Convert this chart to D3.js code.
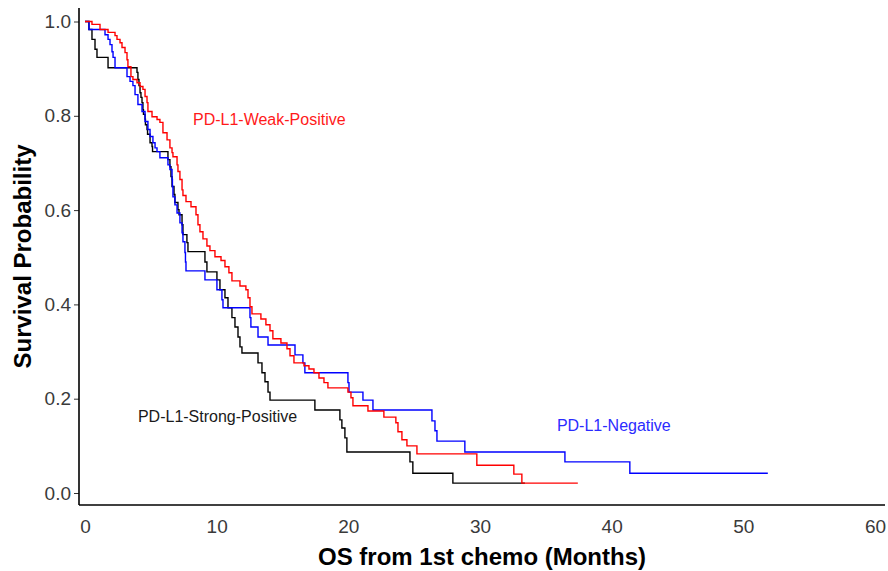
<!DOCTYPE html>
<html>
<head>
<meta charset="utf-8">
<script src="https://cdn.jsdelivr.net/npm/d3@7"></script>
<style>
    body { margin: 0; background: #fff; }
    svg { display: block; font-family: "Liberation Sans", Arial, sans-serif; }
</style>
</head>
<body>
<script>
// Kaplan-Meier curves: time (months) and survival after each step
const weakTime = [0, 0.53, 1.14, 1.75, 2.28, 2.43, 2.66, 2.81, 3.04, 3.19, 3.26, 3.49, 3.64, 3.95, 4.18, 4.40, 4.56, 4.71, 4.78, 5.09,
    5.47, 5.69, 5.92, 6.23, 6.45, 6.61, 6.68, 6.99, 7.06, 7.21, 7.37, 7.44, 7.67, 8.05, 8.43, 8.58, 8.73, 8.96, 9.26, 9.49,
    9.87, 10.33, 10.63, 10.93, 11.16, 11.77, 12.22, 12.38, 12.53, 12.68, 13.36, 13.74, 14.05, 14.27, 14.88, 15.34, 15.57, 15.87, 16.63, 17.01,
    17.39, 17.77, 18.15, 18.45, 19.97, 20.20, 20.35, 21.49, 22.70, 23.61, 23.77, 24.07, 24.45, 25.21, 29.76, 32.57, 33.18, 37.43];
const weakSurv = [1, 0.994, 0.983, 0.977, 0.970, 0.962, 0.955, 0.945, 0.934, 0.919, 0.904, 0.883, 0.877, 0.870, 0.862, 0.856, 0.841, 0.828, 0.809, 0.798,
    0.792, 0.786, 0.764, 0.749, 0.732, 0.722, 0.713, 0.696, 0.682, 0.665, 0.643, 0.631, 0.618, 0.607, 0.590, 0.569, 0.554, 0.539, 0.524, 0.514,
    0.501, 0.493, 0.480, 0.467, 0.450, 0.439, 0.431, 0.414, 0.395, 0.380, 0.369, 0.357, 0.344, 0.327, 0.318, 0.306, 0.291, 0.276, 0.270, 0.263,
    0.255, 0.244, 0.234, 0.223, 0.214, 0.202, 0.185, 0.174, 0.161, 0.149, 0.130, 0.113, 0.100, 0.083, 0.059, 0.040, 0.021, 0.021];

const strongTime = [0, 0.30, 0.53, 0.76, 0.91, 1.75, 3.95, 4.02, 4.10, 4.18, 4.25, 4.33, 4.40, 4.44, 4.56, 4.59, 4.71, 4.75, 4.94, 5.09,
    5.13, 6.30, 6.45, 6.53, 6.61, 6.76, 6.83, 7.06, 7.14, 7.37, 7.44, 7.74, 7.82, 9.11, 9.26, 10.02, 10.25, 10.63, 10.86, 11.16,
    11.39, 11.62, 11.77, 11.92, 13.14, 13.44, 13.67, 13.90, 14.05, 17.46, 19.36, 19.51, 19.74, 19.89, 24.68, 24.90, 27.94, 33.41];
const strongSurv = [1, 0.983, 0.962, 0.941, 0.924, 0.902, 0.892, 0.877, 0.864, 0.849, 0.839, 0.828, 0.813, 0.803, 0.793, 0.781, 0.771, 0.761, 0.743, 0.735,
    0.724, 0.707, 0.692, 0.671, 0.650, 0.633, 0.616, 0.601, 0.590, 0.569, 0.548, 0.531, 0.512, 0.490, 0.469, 0.452, 0.431, 0.414, 0.393, 0.372,
    0.352, 0.331, 0.310, 0.297, 0.276, 0.255, 0.236, 0.214, 0.197, 0.176, 0.155, 0.138, 0.117, 0.087, 0.066, 0.042, 0.021, 0.021];

const negTime = [0, 0.30, 1.52, 1.75, 1.90, 2.05, 2.13, 2.28, 3.19, 3.42, 3.64, 3.80, 4.02, 4.33, 4.56, 4.78, 4.94, 5.16, 5.32, 5.47,
    5.69, 6.30, 6.45, 6.61, 6.64, 6.68, 6.83, 6.99, 7.21, 7.37, 7.44, 7.59, 7.63, 7.67, 9.11, 10.02, 10.40, 10.48, 12.53, 12.60,
    13.14, 13.90, 15.95, 16.55, 16.70, 19.97, 20.05, 21.11, 21.87, 26.35, 26.58, 26.73, 28.85, 36.45, 41.38, 51.86];
const negSurv = [1, 0.983, 0.972, 0.962, 0.951, 0.936, 0.924, 0.902, 0.883, 0.873, 0.864, 0.845, 0.824, 0.809, 0.788, 0.771, 0.756, 0.743, 0.732, 0.724,
    0.711, 0.696, 0.686, 0.665, 0.650, 0.628, 0.611, 0.594, 0.573, 0.552, 0.533, 0.510, 0.490, 0.471, 0.452, 0.431, 0.410, 0.393, 0.372, 0.352,
    0.331, 0.314, 0.293, 0.276, 0.255, 0.234, 0.214, 0.197, 0.176, 0.153, 0.132, 0.110, 0.087, 0.066, 0.042, 0.042];

// Curve labels (start of text, baseline)
const labelText = ["PD-L1-Weak-Positive", "PD-L1-Strong-Positive", "PD-L1-Negative"];
const labelTime = [8.2, 4.02, 35.84];
const labelSurv = [0.781, 0.151, 0.132];

const xTicks = [0, 10, 20, 30, 40, 50, 60];
const yTicks = [0, 0.2, 0.4, 0.6, 0.8, 1.0];

const width = 888, height = 571;
const panel = { left: 79, right: 885, top: 8, bottom: 505 };

const svg = d3.select("body").append("svg")
    .attr("width", width)
    .attr("height", height);

const x = d3.scaleLinear().domain([0, 60]).range([85, 875]);
const y = d3.scaleLinear().domain([0, 1]).range([493, 21.5]);

// Axes
svg.append("g")
    .attr("transform", `translate(0,${panel.bottom})`)
    .call(d3.axisBottom(x).tickValues(xTicks).tickSize(0).tickPadding(15))
    .call(g => g.select(".domain").remove())
    .call(g => g.selectAll("text").attr("font-size", 19).attr("fill", "#3a3a3a").attr("font-family", null));

svg.append("g")
    .attr("transform", `translate(${panel.left},0)`)
    .call(d3.axisLeft(y).tickValues(yTicks).tickFormat(d3.format(".1f")).tickSize(5).tickPadding(3))
    .call(g => g.select(".domain").remove())
    .call(g => g.selectAll("line").attr("stroke", "#333"))
    .call(g => g.selectAll("text").attr("font-size", 19).attr("fill", "#3a3a3a").attr("font-family", null));

svg.append("line")
    .attr("x1", panel.left).attr("x2", panel.right)
    .attr("y1", panel.bottom).attr("y2", panel.bottom)
    .attr("stroke", "#000").attr("stroke-width", 1.6);

svg.append("line")
    .attr("x1", panel.left).attr("x2", panel.left)
    .attr("y1", panel.top).attr("y2", panel.bottom)
    .attr("stroke", "#000").attr("stroke-width", 1.6);

// Survival step curves
const line = d3.line()
    .x(d => x(d[0]))
    .y(d => y(d[1]))
    .curve(d3.curveStepAfter);

function drawCurve(times, surv, color) {
    svg.append("path")
        .datum(d3.zip(times, surv))
        .attr("fill", "none")
        .attr("stroke", color)
        .attr("stroke-width", 1.4)
        .attr("d", line);
}

drawCurve(strongTime, strongSurv, "#000000");
drawCurve(negTime, negSurv, "#0000ff");
drawCurve(weakTime, weakSurv, "#ff0000");

const labelColors = ["#ff1a1a", "#1a1a1a", "#2b2bff"];
svg.selectAll(".curve-label")
    .data(labelText)
    .enter()
    .append("text")
    .attr("class", "curve-label")
    .attr("x", (d, i) => x(labelTime[i]))
    .attr("y", (d, i) => y(labelSurv[i]))
    .attr("font-size", 16)
    .attr("fill", (d, i) => labelColors[i])
    .text(d => d);

// Axis titles
svg.append("text")
    .attr("x", (panel.left + panel.right) / 2)
    .attr("y", 565)
    .attr("text-anchor", "middle")
    .attr("font-size", 24)
    .attr("font-weight", "bold")
    .text("OS from 1st chemo (Months)");

svg.append("text")
    .attr("transform", `translate(31,${(panel.top + panel.bottom) / 2}) rotate(-90)`)
    .attr("text-anchor", "middle")
    .attr("font-size", 24)
    .attr("font-weight", "bold")
    .text("Survival Probability");
</script>
</body>
</html>
